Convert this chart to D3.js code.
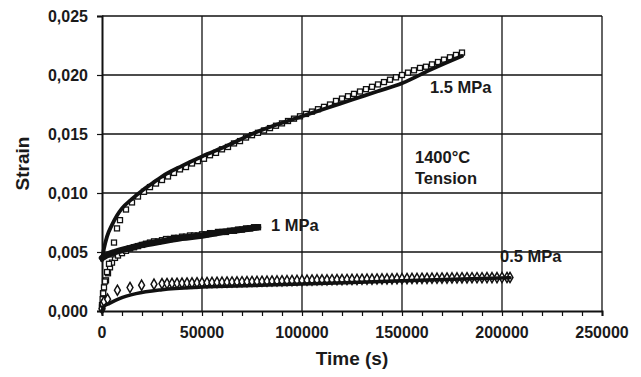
<!DOCTYPE html>
<html>
<head>
<meta charset="utf-8">
<script src="https://cdn.jsdelivr.net/npm/d3@7"></script>
<style>
  body { margin: 0; background: #fff; }
  svg text { font-family: "Liberation Sans", Arial, sans-serif; font-weight: bold; fill: #1a1a1a; }
</style>
</head>
<body>
<div id="chart"></div>
<script>
// ticks
const xTicks = [0, 50000, 100000, 150000, 200000, 250000];
const xTickLabels = ['0', '50000', '100000', '150000', '200000', '250000'];
const yTicks = [0, 0.005, 0.010, 0.015, 0.020, 0.025];
const yTickLabels = ['0,000', '0,005', '0,010', '0,015', '0,020', '0,025'];

// 1.5 MPa measured (squares)
const t15 = [0, 300, 600, 1500, 2500, 3500, 4800, 6000, 7500, 9000, 12000, 15000, 18000, 21000, 24000, 27000,
  30000, 33000, 36000, 39000, 42000, 45000, 48000, 51000, 54000, 57000, 60000, 63000, 66000, 69000, 72000,
  75000, 78000, 81000, 84000, 87000, 90000, 93000, 96000, 99000, 102000, 105000, 108000, 111000, 114000,
  117000, 120000, 123000, 126000, 129000, 132000, 135000, 138000, 141000, 144000, 147000, 150000, 153000,
  156000, 159000, 162000, 165000, 168000, 171000, 174000, 177000, 180000];
const e15 = [0.0003, 0.0010, 0.0015, 0.0025, 0.0033, 0.0040, 0.0048, 0.0058, 0.0070, 0.0077, 0.0086, 0.0092,
  0.0097, 0.0101, 0.0105, 0.0108, 0.0111, 0.0114, 0.0117, 0.0120, 0.0122, 0.0125, 0.0127, 0.0129, 0.0132,
  0.0134, 0.0137, 0.0139, 0.0142, 0.0144, 0.0147, 0.0149, 0.0151, 0.0153, 0.0155, 0.0157, 0.0159, 0.0161,
  0.0163, 0.0165, 0.0167, 0.0169, 0.0171, 0.0173, 0.0175, 0.0178, 0.0180, 0.0182, 0.0184, 0.0186, 0.0188,
  0.0190, 0.0192, 0.0194, 0.0196, 0.0198, 0.0200, 0.0202, 0.0204, 0.0206, 0.0207, 0.0209, 0.0211, 0.0213,
  0.0215, 0.0217, 0.0219];
// 1.5 MPa fit
const tFit15 = [0, 1000, 2500, 5000, 7500, 10000, 15000, 20000, 25000, 30000, 40000, 50000, 62500, 75000,
  87500, 100000, 112500, 125000, 137500, 150000, 165000, 180000];
const eFit15 = [0.0043, 0.0053, 0.0063, 0.0073, 0.0081, 0.0087, 0.0095, 0.0102, 0.0108, 0.0114, 0.0123,
  0.0131, 0.0140, 0.0150, 0.0158, 0.0165, 0.0172, 0.0179, 0.0186, 0.0193, 0.0205, 0.0216];

// 1 MPa measured (squares)
const t10 = [0, 500, 1000, 2000, 3000, 4000, 5000, 6500, 8000, 10000, 12000, 14000, 16000, 18000, 20000,
  22000, 24000, 26000, 28000, 30000, 32000, 34000, 36000, 38000, 40000, 42000, 44000, 46000, 48000, 50000,
  52000, 54000, 56000, 58000, 60000, 62000, 64000, 66000, 68000, 70000, 72000, 74000, 76000, 78000];
const e10 = [0.0005, 0.0015, 0.0020, 0.0026, 0.0032, 0.0037, 0.0041, 0.0045, 0.0047, 0.0049, 0.0051, 0.0053,
  0.0054, 0.0055, 0.0056, 0.0057, 0.0058, 0.0059, 0.0059, 0.0060, 0.0061, 0.0061, 0.0062, 0.0062, 0.0063,
  0.0063, 0.0064, 0.0064, 0.0064, 0.0065, 0.0065, 0.0066, 0.0066, 0.0067, 0.0067, 0.0067, 0.0068, 0.0068,
  0.0069, 0.0069, 0.0070, 0.0070, 0.0071, 0.0071];
// 1 MPa fit
const tFit10 = [0, 2000, 6500, 13000, 20000, 30000, 40000, 50000, 60000, 70000, 78000];
const eFit10 = [0.0045, 0.0047, 0.0050, 0.0053, 0.0056, 0.0059, 0.0062, 0.0064, 0.0067, 0.0069, 0.0071];

// 0.5 MPa measured (diamonds)
const t05 = [0, 400, 1000, 2800, 7700, 14000, 19800, 26000, 30000, 32500, 35000, 37500, 40000, 42500, 45000,
  47500, 50000, 52500, 55000, 57500, 60000, 62500, 65000, 67500, 70000, 72500, 75000, 77500, 80000, 82500,
  85000, 87500, 90000, 92500, 95000, 97500, 100000, 102500, 105000, 107500, 110000, 112500, 115000, 117500,
  120000, 122500, 125000, 127500, 130000, 132500, 135000, 137500, 140000, 142500, 145000, 147500, 150000,
  152500, 155000, 157500, 160000, 162500, 165000, 167500, 170000, 172500, 175000, 177500, 180000, 182500,
  185000, 187500, 190000, 192500, 195000, 197500, 200000, 202500, 204000];
const e05 = [0.0002, 0.0006, 0.0008, 0.00100, 0.00176, 0.00199, 0.00219, 0.00227, 0.00232, 0.00233, 0.00234,
  0.00235, 0.00236, 0.00237, 0.00238, 0.00239, 0.00240, 0.00241, 0.00242, 0.00243, 0.00244, 0.00245, 0.00246,
  0.00247, 0.00248, 0.00249, 0.00250, 0.00251, 0.00252, 0.00253, 0.00254, 0.00255, 0.00256, 0.00257, 0.00258,
  0.00259, 0.00260, 0.00261, 0.00262, 0.00263, 0.00264, 0.00264, 0.00265, 0.00266, 0.00266, 0.00267, 0.00268,
  0.00268, 0.00269, 0.00270, 0.00270, 0.00271, 0.00272, 0.00272, 0.00273, 0.00274, 0.00274, 0.00275, 0.00276,
  0.00276, 0.00277, 0.00277, 0.00278, 0.00278, 0.00279, 0.00279, 0.00280, 0.00280, 0.00281, 0.00281, 0.00282,
  0.00282, 0.00282, 0.00283, 0.00283, 0.00283, 0.00284, 0.00284, 0.00284];
// 0.5 MPa fit
const tFit05 = [0, 1000, 3700, 8700, 17000, 30000, 50000, 75000, 100000, 125000, 150000, 175000, 204000];
const eFit05 = [0.0000, 0.0004, 0.00065, 0.00105, 0.00147, 0.00181, 0.00203, 0.00216, 0.00228, 0.00242,
  0.00256, 0.00269, 0.00282];

const seriesLabels = ['1.5 MPa', '1 MPa', '0.5 MPa'];
const noteLines = ['1400°C', 'Tension'];

const W = 641, H = 377;
const margin = { top: 16, right: 39, bottom: 66, left: 102 };
const width = W - margin.left - margin.right;
const height = H - margin.top - margin.bottom;

const svg = d3.select('#chart').append('svg')
  .attr('width', W)
  .attr('height', H);

const chart = svg.append('g')
  .attr('transform', `translate(${margin.left}, ${margin.top})`);

const x = d3.scaleLinear().domain([0, 250000]).range([0, width]);
const y = d3.scaleLinear().domain([0, 0.025]).range([height, 0]);

// gridlines
chart.append('g').selectAll('line.gx')
  .data(xTicks.slice(1))
  .join('line')
  .attr('x1', d => x(d)).attr('x2', d => x(d))
  .attr('y1', 0).attr('y2', height)
  .attr('stroke', '#111').attr('stroke-width', 1.3);
chart.append('g').selectAll('line.gy')
  .data(yTicks.slice(1))
  .join('line')
  .attr('x1', 0).attr('x2', width)
  .attr('y1', d => y(d)).attr('y2', d => y(d))
  .attr('stroke', '#111').attr('stroke-width', 1.3);

// axes
const xAxis = chart.append('g')
  .attr('transform', `translate(0, ${height})`)
  .call(d3.axisBottom(x).tickValues(d3.range(0, 250001, 10000)).tickSize(5).tickFormat(''));
const yAxis = chart.append('g')
  .call(d3.axisLeft(y).tickValues(yTicks).tickSize(5).tickFormat(''));
[xAxis, yAxis].forEach(a => {
  a.select('.domain').attr('stroke', '#111').attr('stroke-width', 2);
  a.selectAll('.tick line').attr('stroke', '#111').attr('stroke-width', 1.2);
});

chart.append('g').selectAll('text')
  .data(xTicks)
  .join('text')
  .attr('x', d => x(d))
  .attr('y', height + 27)
  .attr('text-anchor', 'middle')
  .style('font-size', '16px')
  .text((d, i) => xTickLabels[i]);

chart.append('g').selectAll('text')
  .data(yTicks)
  .join('text')
  .attr('x', -14)
  .attr('y', d => y(d))
  .attr('dy', '0.35em')
  .attr('text-anchor', 'end')
  .style('font-size', '16px')
  .text((d, i) => yTickLabels[i]);

svg.append('text')
  .attr('x', margin.left + width / 2)
  .attr('y', 365)
  .attr('text-anchor', 'middle')
  .style('font-size', '19px')
  .text('Time (s)');

svg.append('text')
  .attr('transform', `translate(29, ${margin.top + height / 2}) rotate(-90)`)
  .attr('text-anchor', 'middle')
  .style('font-size', '19px')
  .text('Strain');

const zip = (ts, es) => ts.map((t, i) => ({ t: t, e: es[i] }));

// markers
const squares = (data) => chart.append('g').selectAll('rect')
  .data(data)
  .join('rect')
  .attr('x', d => x(d.t) - 2.5)
  .attr('y', d => y(d.e) - 2.5)
  .attr('width', 5).attr('height', 5)
  .attr('fill', '#fff')
  .attr('stroke', '#111')
  .attr('stroke-width', 1.3);

squares(zip(t10, e10));
squares(zip(t15, e15));

chart.append('g').selectAll('path')
  .data(zip(t05, e05))
  .join('path')
  .attr('transform', d => `translate(${x(d.t)}, ${y(d.e)})`)
  .attr('d', d3.symbol(d3.symbolDiamond, 30))
  .attr('fill', '#fff')
  .attr('stroke', '#111')
  .attr('stroke-width', 1.5);

// fit lines
const lineGenerator = d3.line()
  .x(d => x(d.t))
  .y(d => y(d.e))
  .curve(d3.curveMonotoneX);

[[tFit15, eFit15, 3.8], [tFit10, eFit10, 6.5], [tFit05, eFit05, 3.5]].forEach(([ts, es, w]) => {
  chart.append('path')
    .datum(zip(ts, es))
    .attr('fill', 'none')
    .attr('stroke', '#111')
    .attr('stroke-width', w)
    .attr('stroke-linecap', 'round')
    .attr('d', lineGenerator);
});

// annotations
const labelPos = [[164000, 0.0190], [84500, 0.0073], [199000, 0.0046]];
chart.append('g').selectAll('text')
  .data(seriesLabels)
  .join('text')
  .attr('x', (d, i) => x(labelPos[i][0]))
  .attr('y', (d, i) => y(labelPos[i][1]))
  .attr('dy', '0.35em')
  .style('font-size', '16.5px')
  .text(d => d);

chart.append('g').selectAll('text')
  .data(noteLines)
  .join('text')
  .attr('x', x(156500))
  .attr('y', (d, i) => y(0.0130) + i * 21)
  .attr('dy', '0.35em')
  .style('font-size', '16.5px')
  .text(d => d);
</script>
</body>
</html>
